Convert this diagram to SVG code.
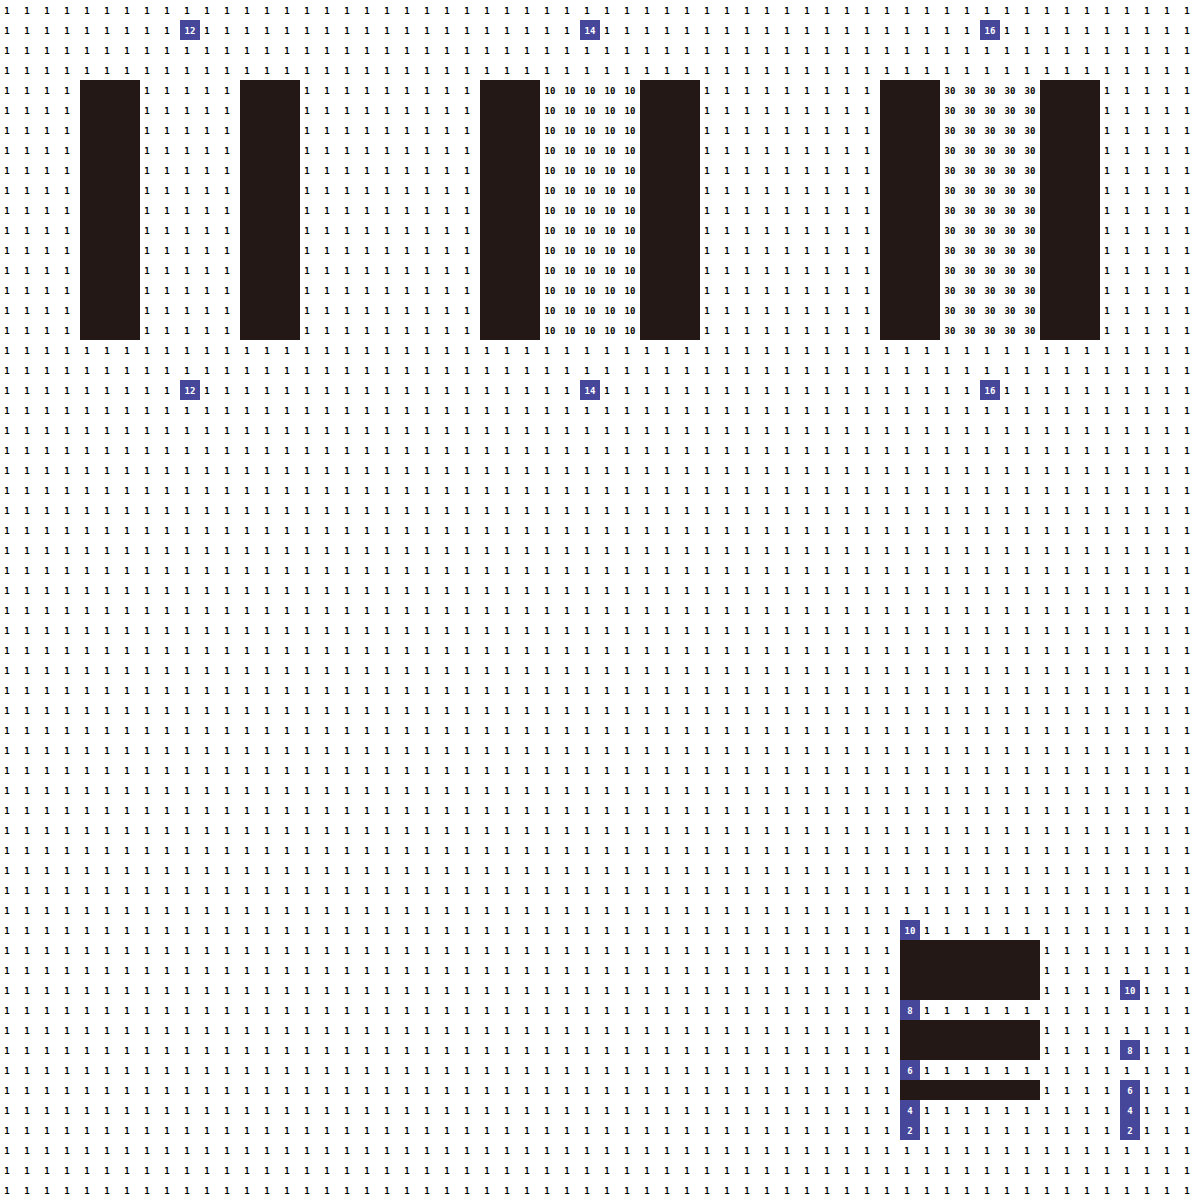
<svg xmlns="http://www.w3.org/2000/svg" width="1200" height="1200" viewBox="0 0 1200 1200">
<style>
.o{font-family:"DejaVu Sans Mono","Liberation Mono",monospace;font-weight:bold;font-size:9px;text-anchor:middle;fill:#000}
.b{fill:#46479B}
.w{font-family:"DejaVu Sans Mono","Liberation Mono",monospace;font-weight:bold;font-size:9px;text-anchor:middle;fill:#fff}
.k{fill:#231815}
</style>
<rect width="1200" height="1200" fill="#fff"/>
<g id="bars">
<rect class="k" x="80" y="80" width="60" height="260"/>
<rect class="k" x="240" y="80" width="60" height="260"/>
<rect class="k" x="480" y="80" width="60" height="260"/>
<rect class="k" x="640" y="80" width="60" height="260"/>
<rect class="k" x="880" y="80" width="60" height="260"/>
<rect class="k" x="1040" y="80" width="60" height="260"/>
<rect class="k" x="900" y="940" width="140" height="60"/>
<rect class="k" x="900" y="1020" width="140" height="40"/>
<rect class="k" x="900" y="1080" width="140" height="20"/>
</g>
<g id="labels">
<rect class="b" x="180" y="20" width="20" height="20"/><text class="w" x="190" y="34">12</text>
<rect class="b" x="580" y="20" width="20" height="20"/><text class="w" x="590" y="34">14</text>
<rect class="b" x="980" y="20" width="20" height="20"/><text class="w" x="990" y="34">16</text>
<rect class="b" x="180" y="380" width="20" height="20"/><text class="w" x="190" y="394">12</text>
<rect class="b" x="580" y="380" width="20" height="20"/><text class="w" x="590" y="394">14</text>
<rect class="b" x="980" y="380" width="20" height="20"/><text class="w" x="990" y="394">16</text>
<rect class="b" x="900" y="920" width="20" height="20"/><text class="w" x="910" y="934">10</text>
<rect class="b" x="900" y="1000" width="20" height="20"/><text class="w" x="910" y="1014">8</text>
<rect class="b" x="900" y="1060" width="20" height="20"/><text class="w" x="910" y="1074">6</text>
<rect class="b" x="900" y="1100" width="20" height="40"/><text class="w" x="910" y="1114">4</text><text class="w" x="910" y="1134">2</text>
<rect class="b" x="1120" y="980" width="20" height="20"/><text class="w" x="1130" y="994">10</text>
<rect class="b" x="1120" y="1040" width="20" height="20"/><text class="w" x="1130" y="1054">8</text>
<rect class="b" x="1120" y="1080" width="20" height="60"/><text class="w" x="1130" y="1094">6</text><text class="w" x="1130" y="1114">4</text><text class="w" x="1130" y="1134">2</text>
</g>
<g id="cells">
<text class="o" y="14" x="7 27 47 67 87 107 127 147 167 187 207 227 247 267 287 307 327 347 367 387 407 427 447 467 487 507 527 547 567 587 607 627 647 667 687 707 727 747 767 787 807 827 847 867 887 907 927 947 967 987 1007 1027 1047 1067 1087 1107 1127 1147 1167 1187">111111111111111111111111111111111111111111111111111111111111</text>
<text class="o" y="34" x="7 27 47 67 87 107 127 147 167">111111111</text>
<text class="o" y="34" x="207 227 247 267 287 307 327 347 367 387 407 427 447 467 487 507 527 547 567">1111111111111111111</text>
<text class="o" y="34" x="607 627 647 667 687 707 727 747 767 787 807 827 847 867 887 907 927 947 967">1111111111111111111</text>
<text class="o" y="34" x="1007 1027 1047 1067 1087 1107 1127 1147 1167 1187">1111111111</text>
<text class="o" y="54" x="7 27 47 67 87 107 127 147 167 187 207 227 247 267 287 307 327 347 367 387 407 427 447 467 487 507 527 547 567 587 607 627 647 667 687 707 727 747 767 787 807 827 847 867 887 907 927 947 967 987 1007 1027 1047 1067 1087 1107 1127 1147 1167 1187">111111111111111111111111111111111111111111111111111111111111</text>
<text class="o" y="74" x="7 27 47 67 87 107 127 147 167 187 207 227 247 267 287 307 327 347 367 387 407 427 447 467 487 507 527 547 567 587 607 627 647 667 687 707 727 747 767 787 807 827 847 867 887 907 927 947 967 987 1007 1027 1047 1067 1087 1107 1127 1147 1167 1187">111111111111111111111111111111111111111111111111111111111111</text>

<text class="o" y="94" x="7 27 47 67">1111</text><text class="o" y="94" x="147 167 187 207 227">11111</text><text class="o" y="94" x="307 327 347 367 387 407 427 447 467">111111111</text><text class="o" y="94" x="547.3 552.7 567.3 572.7 587.3 592.7 607.3 612.7 627.3 632.7">1010101010</text><text class="o" y="94" x="707 727 747 767 787 807 827 847 867">111111111</text><text class="o" y="94" x="947.3 952.7 967.3 972.7 987.3 992.7 1007.3 1012.7 1027.3 1032.7">3030303030</text><text class="o" y="94" x="1107 1127 1147 1167 1187">11111</text>
<text class="o" y="114" x="7 27 47 67">1111</text><text class="o" y="114" x="147 167 187 207 227">11111</text><text class="o" y="114" x="307 327 347 367 387 407 427 447 467">111111111</text><text class="o" y="114" x="547.3 552.7 567.3 572.7 587.3 592.7 607.3 612.7 627.3 632.7">1010101010</text><text class="o" y="114" x="707 727 747 767 787 807 827 847 867">111111111</text><text class="o" y="114" x="947.3 952.7 967.3 972.7 987.3 992.7 1007.3 1012.7 1027.3 1032.7">3030303030</text><text class="o" y="114" x="1107 1127 1147 1167 1187">11111</text>
<text class="o" y="134" x="7 27 47 67">1111</text><text class="o" y="134" x="147 167 187 207 227">11111</text><text class="o" y="134" x="307 327 347 367 387 407 427 447 467">111111111</text><text class="o" y="134" x="547.3 552.7 567.3 572.7 587.3 592.7 607.3 612.7 627.3 632.7">1010101010</text><text class="o" y="134" x="707 727 747 767 787 807 827 847 867">111111111</text><text class="o" y="134" x="947.3 952.7 967.3 972.7 987.3 992.7 1007.3 1012.7 1027.3 1032.7">3030303030</text><text class="o" y="134" x="1107 1127 1147 1167 1187">11111</text>
<text class="o" y="154" x="7 27 47 67">1111</text><text class="o" y="154" x="147 167 187 207 227">11111</text><text class="o" y="154" x="307 327 347 367 387 407 427 447 467">111111111</text><text class="o" y="154" x="547.3 552.7 567.3 572.7 587.3 592.7 607.3 612.7 627.3 632.7">1010101010</text><text class="o" y="154" x="707 727 747 767 787 807 827 847 867">111111111</text><text class="o" y="154" x="947.3 952.7 967.3 972.7 987.3 992.7 1007.3 1012.7 1027.3 1032.7">3030303030</text><text class="o" y="154" x="1107 1127 1147 1167 1187">11111</text>
<text class="o" y="174" x="7 27 47 67">1111</text><text class="o" y="174" x="147 167 187 207 227">11111</text><text class="o" y="174" x="307 327 347 367 387 407 427 447 467">111111111</text><text class="o" y="174" x="547.3 552.7 567.3 572.7 587.3 592.7 607.3 612.7 627.3 632.7">1010101010</text><text class="o" y="174" x="707 727 747 767 787 807 827 847 867">111111111</text><text class="o" y="174" x="947.3 952.7 967.3 972.7 987.3 992.7 1007.3 1012.7 1027.3 1032.7">3030303030</text><text class="o" y="174" x="1107 1127 1147 1167 1187">11111</text>
<text class="o" y="194" x="7 27 47 67">1111</text><text class="o" y="194" x="147 167 187 207 227">11111</text><text class="o" y="194" x="307 327 347 367 387 407 427 447 467">111111111</text><text class="o" y="194" x="547.3 552.7 567.3 572.7 587.3 592.7 607.3 612.7 627.3 632.7">1010101010</text><text class="o" y="194" x="707 727 747 767 787 807 827 847 867">111111111</text><text class="o" y="194" x="947.3 952.7 967.3 972.7 987.3 992.7 1007.3 1012.7 1027.3 1032.7">3030303030</text><text class="o" y="194" x="1107 1127 1147 1167 1187">11111</text>
<text class="o" y="214" x="7 27 47 67">1111</text><text class="o" y="214" x="147 167 187 207 227">11111</text><text class="o" y="214" x="307 327 347 367 387 407 427 447 467">111111111</text><text class="o" y="214" x="547.3 552.7 567.3 572.7 587.3 592.7 607.3 612.7 627.3 632.7">1010101010</text><text class="o" y="214" x="707 727 747 767 787 807 827 847 867">111111111</text><text class="o" y="214" x="947.3 952.7 967.3 972.7 987.3 992.7 1007.3 1012.7 1027.3 1032.7">3030303030</text><text class="o" y="214" x="1107 1127 1147 1167 1187">11111</text>
<text class="o" y="234" x="7 27 47 67">1111</text><text class="o" y="234" x="147 167 187 207 227">11111</text><text class="o" y="234" x="307 327 347 367 387 407 427 447 467">111111111</text><text class="o" y="234" x="547.3 552.7 567.3 572.7 587.3 592.7 607.3 612.7 627.3 632.7">1010101010</text><text class="o" y="234" x="707 727 747 767 787 807 827 847 867">111111111</text><text class="o" y="234" x="947.3 952.7 967.3 972.7 987.3 992.7 1007.3 1012.7 1027.3 1032.7">3030303030</text><text class="o" y="234" x="1107 1127 1147 1167 1187">11111</text>
<text class="o" y="254" x="7 27 47 67">1111</text><text class="o" y="254" x="147 167 187 207 227">11111</text><text class="o" y="254" x="307 327 347 367 387 407 427 447 467">111111111</text><text class="o" y="254" x="547.3 552.7 567.3 572.7 587.3 592.7 607.3 612.7 627.3 632.7">1010101010</text><text class="o" y="254" x="707 727 747 767 787 807 827 847 867">111111111</text><text class="o" y="254" x="947.3 952.7 967.3 972.7 987.3 992.7 1007.3 1012.7 1027.3 1032.7">3030303030</text><text class="o" y="254" x="1107 1127 1147 1167 1187">11111</text>
<text class="o" y="274" x="7 27 47 67">1111</text><text class="o" y="274" x="147 167 187 207 227">11111</text><text class="o" y="274" x="307 327 347 367 387 407 427 447 467">111111111</text><text class="o" y="274" x="547.3 552.7 567.3 572.7 587.3 592.7 607.3 612.7 627.3 632.7">1010101010</text><text class="o" y="274" x="707 727 747 767 787 807 827 847 867">111111111</text><text class="o" y="274" x="947.3 952.7 967.3 972.7 987.3 992.7 1007.3 1012.7 1027.3 1032.7">3030303030</text><text class="o" y="274" x="1107 1127 1147 1167 1187">11111</text>
<text class="o" y="294" x="7 27 47 67">1111</text><text class="o" y="294" x="147 167 187 207 227">11111</text><text class="o" y="294" x="307 327 347 367 387 407 427 447 467">111111111</text><text class="o" y="294" x="547.3 552.7 567.3 572.7 587.3 592.7 607.3 612.7 627.3 632.7">1010101010</text><text class="o" y="294" x="707 727 747 767 787 807 827 847 867">111111111</text><text class="o" y="294" x="947.3 952.7 967.3 972.7 987.3 992.7 1007.3 1012.7 1027.3 1032.7">3030303030</text><text class="o" y="294" x="1107 1127 1147 1167 1187">11111</text>
<text class="o" y="314" x="7 27 47 67">1111</text><text class="o" y="314" x="147 167 187 207 227">11111</text><text class="o" y="314" x="307 327 347 367 387 407 427 447 467">111111111</text><text class="o" y="314" x="547.3 552.7 567.3 572.7 587.3 592.7 607.3 612.7 627.3 632.7">1010101010</text><text class="o" y="314" x="707 727 747 767 787 807 827 847 867">111111111</text><text class="o" y="314" x="947.3 952.7 967.3 972.7 987.3 992.7 1007.3 1012.7 1027.3 1032.7">3030303030</text><text class="o" y="314" x="1107 1127 1147 1167 1187">11111</text>
<text class="o" y="334" x="7 27 47 67">1111</text><text class="o" y="334" x="147 167 187 207 227">11111</text><text class="o" y="334" x="307 327 347 367 387 407 427 447 467">111111111</text><text class="o" y="334" x="547.3 552.7 567.3 572.7 587.3 592.7 607.3 612.7 627.3 632.7">1010101010</text><text class="o" y="334" x="707 727 747 767 787 807 827 847 867">111111111</text><text class="o" y="334" x="947.3 952.7 967.3 972.7 987.3 992.7 1007.3 1012.7 1027.3 1032.7">3030303030</text><text class="o" y="334" x="1107 1127 1147 1167 1187">11111</text>

<text class="o" y="354" x="7 27 47 67 87 107 127 147 167 187 207 227 247 267 287 307 327 347 367 387 407 427 447 467 487 507 527 547 567 587 607 627 647 667 687 707 727 747 767 787 807 827 847 867 887 907 927 947 967 987 1007 1027 1047 1067 1087 1107 1127 1147 1167 1187">111111111111111111111111111111111111111111111111111111111111</text>
<text class="o" y="374" x="7 27 47 67 87 107 127 147 167 187 207 227 247 267 287 307 327 347 367 387 407 427 447 467 487 507 527 547 567 587 607 627 647 667 687 707 727 747 767 787 807 827 847 867 887 907 927 947 967 987 1007 1027 1047 1067 1087 1107 1127 1147 1167 1187">111111111111111111111111111111111111111111111111111111111111</text>
<text class="o" y="394" x="7 27 47 67 87 107 127 147 167">111111111</text>
<text class="o" y="394" x="207 227 247 267 287 307 327 347 367 387 407 427 447 467 487 507 527 547 567">1111111111111111111</text>
<text class="o" y="394" x="607 627 647 667 687 707 727 747 767 787 807 827 847 867 887 907 927 947 967">1111111111111111111</text>
<text class="o" y="394" x="1007 1027 1047 1067 1087 1107 1127 1147 1167 1187">1111111111</text>
<text class="o" y="414" x="7 27 47 67 87 107 127 147 167 187 207 227 247 267 287 307 327 347 367 387 407 427 447 467 487 507 527 547 567 587 607 627 647 667 687 707 727 747 767 787 807 827 847 867 887 907 927 947 967 987 1007 1027 1047 1067 1087 1107 1127 1147 1167 1187">111111111111111111111111111111111111111111111111111111111111</text>
<text class="o" y="434" x="7 27 47 67 87 107 127 147 167 187 207 227 247 267 287 307 327 347 367 387 407 427 447 467 487 507 527 547 567 587 607 627 647 667 687 707 727 747 767 787 807 827 847 867 887 907 927 947 967 987 1007 1027 1047 1067 1087 1107 1127 1147 1167 1187">111111111111111111111111111111111111111111111111111111111111</text>
<text class="o" y="454" x="7 27 47 67 87 107 127 147 167 187 207 227 247 267 287 307 327 347 367 387 407 427 447 467 487 507 527 547 567 587 607 627 647 667 687 707 727 747 767 787 807 827 847 867 887 907 927 947 967 987 1007 1027 1047 1067 1087 1107 1127 1147 1167 1187">111111111111111111111111111111111111111111111111111111111111</text>
<text class="o" y="474" x="7 27 47 67 87 107 127 147 167 187 207 227 247 267 287 307 327 347 367 387 407 427 447 467 487 507 527 547 567 587 607 627 647 667 687 707 727 747 767 787 807 827 847 867 887 907 927 947 967 987 1007 1027 1047 1067 1087 1107 1127 1147 1167 1187">111111111111111111111111111111111111111111111111111111111111</text>
<text class="o" y="494" x="7 27 47 67 87 107 127 147 167 187 207 227 247 267 287 307 327 347 367 387 407 427 447 467 487 507 527 547 567 587 607 627 647 667 687 707 727 747 767 787 807 827 847 867 887 907 927 947 967 987 1007 1027 1047 1067 1087 1107 1127 1147 1167 1187">111111111111111111111111111111111111111111111111111111111111</text>
<text class="o" y="514" x="7 27 47 67 87 107 127 147 167 187 207 227 247 267 287 307 327 347 367 387 407 427 447 467 487 507 527 547 567 587 607 627 647 667 687 707 727 747 767 787 807 827 847 867 887 907 927 947 967 987 1007 1027 1047 1067 1087 1107 1127 1147 1167 1187">111111111111111111111111111111111111111111111111111111111111</text>
<text class="o" y="534" x="7 27 47 67 87 107 127 147 167 187 207 227 247 267 287 307 327 347 367 387 407 427 447 467 487 507 527 547 567 587 607 627 647 667 687 707 727 747 767 787 807 827 847 867 887 907 927 947 967 987 1007 1027 1047 1067 1087 1107 1127 1147 1167 1187">111111111111111111111111111111111111111111111111111111111111</text>
<text class="o" y="554" x="7 27 47 67 87 107 127 147 167 187 207 227 247 267 287 307 327 347 367 387 407 427 447 467 487 507 527 547 567 587 607 627 647 667 687 707 727 747 767 787 807 827 847 867 887 907 927 947 967 987 1007 1027 1047 1067 1087 1107 1127 1147 1167 1187">111111111111111111111111111111111111111111111111111111111111</text>
<text class="o" y="574" x="7 27 47 67 87 107 127 147 167 187 207 227 247 267 287 307 327 347 367 387 407 427 447 467 487 507 527 547 567 587 607 627 647 667 687 707 727 747 767 787 807 827 847 867 887 907 927 947 967 987 1007 1027 1047 1067 1087 1107 1127 1147 1167 1187">111111111111111111111111111111111111111111111111111111111111</text>
<text class="o" y="594" x="7 27 47 67 87 107 127 147 167 187 207 227 247 267 287 307 327 347 367 387 407 427 447 467 487 507 527 547 567 587 607 627 647 667 687 707 727 747 767 787 807 827 847 867 887 907 927 947 967 987 1007 1027 1047 1067 1087 1107 1127 1147 1167 1187">111111111111111111111111111111111111111111111111111111111111</text>
<text class="o" y="614" x="7 27 47 67 87 107 127 147 167 187 207 227 247 267 287 307 327 347 367 387 407 427 447 467 487 507 527 547 567 587 607 627 647 667 687 707 727 747 767 787 807 827 847 867 887 907 927 947 967 987 1007 1027 1047 1067 1087 1107 1127 1147 1167 1187">111111111111111111111111111111111111111111111111111111111111</text>
<text class="o" y="634" x="7 27 47 67 87 107 127 147 167 187 207 227 247 267 287 307 327 347 367 387 407 427 447 467 487 507 527 547 567 587 607 627 647 667 687 707 727 747 767 787 807 827 847 867 887 907 927 947 967 987 1007 1027 1047 1067 1087 1107 1127 1147 1167 1187">111111111111111111111111111111111111111111111111111111111111</text>
<text class="o" y="654" x="7 27 47 67 87 107 127 147 167 187 207 227 247 267 287 307 327 347 367 387 407 427 447 467 487 507 527 547 567 587 607 627 647 667 687 707 727 747 767 787 807 827 847 867 887 907 927 947 967 987 1007 1027 1047 1067 1087 1107 1127 1147 1167 1187">111111111111111111111111111111111111111111111111111111111111</text>
<text class="o" y="674" x="7 27 47 67 87 107 127 147 167 187 207 227 247 267 287 307 327 347 367 387 407 427 447 467 487 507 527 547 567 587 607 627 647 667 687 707 727 747 767 787 807 827 847 867 887 907 927 947 967 987 1007 1027 1047 1067 1087 1107 1127 1147 1167 1187">111111111111111111111111111111111111111111111111111111111111</text>
<text class="o" y="694" x="7 27 47 67 87 107 127 147 167 187 207 227 247 267 287 307 327 347 367 387 407 427 447 467 487 507 527 547 567 587 607 627 647 667 687 707 727 747 767 787 807 827 847 867 887 907 927 947 967 987 1007 1027 1047 1067 1087 1107 1127 1147 1167 1187">111111111111111111111111111111111111111111111111111111111111</text>
<text class="o" y="714" x="7 27 47 67 87 107 127 147 167 187 207 227 247 267 287 307 327 347 367 387 407 427 447 467 487 507 527 547 567 587 607 627 647 667 687 707 727 747 767 787 807 827 847 867 887 907 927 947 967 987 1007 1027 1047 1067 1087 1107 1127 1147 1167 1187">111111111111111111111111111111111111111111111111111111111111</text>
<text class="o" y="734" x="7 27 47 67 87 107 127 147 167 187 207 227 247 267 287 307 327 347 367 387 407 427 447 467 487 507 527 547 567 587 607 627 647 667 687 707 727 747 767 787 807 827 847 867 887 907 927 947 967 987 1007 1027 1047 1067 1087 1107 1127 1147 1167 1187">111111111111111111111111111111111111111111111111111111111111</text>
<text class="o" y="754" x="7 27 47 67 87 107 127 147 167 187 207 227 247 267 287 307 327 347 367 387 407 427 447 467 487 507 527 547 567 587 607 627 647 667 687 707 727 747 767 787 807 827 847 867 887 907 927 947 967 987 1007 1027 1047 1067 1087 1107 1127 1147 1167 1187">111111111111111111111111111111111111111111111111111111111111</text>
<text class="o" y="774" x="7 27 47 67 87 107 127 147 167 187 207 227 247 267 287 307 327 347 367 387 407 427 447 467 487 507 527 547 567 587 607 627 647 667 687 707 727 747 767 787 807 827 847 867 887 907 927 947 967 987 1007 1027 1047 1067 1087 1107 1127 1147 1167 1187">111111111111111111111111111111111111111111111111111111111111</text>
<text class="o" y="794" x="7 27 47 67 87 107 127 147 167 187 207 227 247 267 287 307 327 347 367 387 407 427 447 467 487 507 527 547 567 587 607 627 647 667 687 707 727 747 767 787 807 827 847 867 887 907 927 947 967 987 1007 1027 1047 1067 1087 1107 1127 1147 1167 1187">111111111111111111111111111111111111111111111111111111111111</text>
<text class="o" y="814" x="7 27 47 67 87 107 127 147 167 187 207 227 247 267 287 307 327 347 367 387 407 427 447 467 487 507 527 547 567 587 607 627 647 667 687 707 727 747 767 787 807 827 847 867 887 907 927 947 967 987 1007 1027 1047 1067 1087 1107 1127 1147 1167 1187">111111111111111111111111111111111111111111111111111111111111</text>
<text class="o" y="834" x="7 27 47 67 87 107 127 147 167 187 207 227 247 267 287 307 327 347 367 387 407 427 447 467 487 507 527 547 567 587 607 627 647 667 687 707 727 747 767 787 807 827 847 867 887 907 927 947 967 987 1007 1027 1047 1067 1087 1107 1127 1147 1167 1187">111111111111111111111111111111111111111111111111111111111111</text>
<text class="o" y="854" x="7 27 47 67 87 107 127 147 167 187 207 227 247 267 287 307 327 347 367 387 407 427 447 467 487 507 527 547 567 587 607 627 647 667 687 707 727 747 767 787 807 827 847 867 887 907 927 947 967 987 1007 1027 1047 1067 1087 1107 1127 1147 1167 1187">111111111111111111111111111111111111111111111111111111111111</text>
<text class="o" y="874" x="7 27 47 67 87 107 127 147 167 187 207 227 247 267 287 307 327 347 367 387 407 427 447 467 487 507 527 547 567 587 607 627 647 667 687 707 727 747 767 787 807 827 847 867 887 907 927 947 967 987 1007 1027 1047 1067 1087 1107 1127 1147 1167 1187">111111111111111111111111111111111111111111111111111111111111</text>
<text class="o" y="894" x="7 27 47 67 87 107 127 147 167 187 207 227 247 267 287 307 327 347 367 387 407 427 447 467 487 507 527 547 567 587 607 627 647 667 687 707 727 747 767 787 807 827 847 867 887 907 927 947 967 987 1007 1027 1047 1067 1087 1107 1127 1147 1167 1187">111111111111111111111111111111111111111111111111111111111111</text>
<text class="o" y="914" x="7 27 47 67 87 107 127 147 167 187 207 227 247 267 287 307 327 347 367 387 407 427 447 467 487 507 527 547 567 587 607 627 647 667 687 707 727 747 767 787 807 827 847 867 887 907 927 947 967 987 1007 1027 1047 1067 1087 1107 1127 1147 1167 1187">111111111111111111111111111111111111111111111111111111111111</text>

<text class="o" y="934" x="7 27 47 67 87 107 127 147 167 187 207 227 247 267 287 307 327 347 367 387 407 427 447 467 487 507 527 547 567 587 607 627 647 667 687 707 727 747 767 787 807 827 847 867 887">111111111111111111111111111111111111111111111</text>
<text class="o" y="934" x="927 947 967 987 1007 1027 1047 1067 1087 1107 1127 1147 1167 1187">11111111111111</text>
<text class="o" y="954" x="7 27 47 67 87 107 127 147 167 187 207 227 247 267 287 307 327 347 367 387 407 427 447 467 487 507 527 547 567 587 607 627 647 667 687 707 727 747 767 787 807 827 847 867 887">111111111111111111111111111111111111111111111</text>
<text class="o" y="954" x="1047 1067 1087 1107 1127 1147 1167 1187">11111111</text>
<text class="o" y="974" x="7 27 47 67 87 107 127 147 167 187 207 227 247 267 287 307 327 347 367 387 407 427 447 467 487 507 527 547 567 587 607 627 647 667 687 707 727 747 767 787 807 827 847 867 887">111111111111111111111111111111111111111111111</text>
<text class="o" y="974" x="1047 1067 1087 1107 1127 1147 1167 1187">11111111</text>
<text class="o" y="994" x="7 27 47 67 87 107 127 147 167 187 207 227 247 267 287 307 327 347 367 387 407 427 447 467 487 507 527 547 567 587 607 627 647 667 687 707 727 747 767 787 807 827 847 867 887">111111111111111111111111111111111111111111111</text>
<text class="o" y="994" x="1047 1067 1087 1107">1111</text>
<text class="o" y="994" x="1147 1167 1187">111</text>
<text class="o" y="1014" x="7 27 47 67 87 107 127 147 167 187 207 227 247 267 287 307 327 347 367 387 407 427 447 467 487 507 527 547 567 587 607 627 647 667 687 707 727 747 767 787 807 827 847 867 887">111111111111111111111111111111111111111111111</text>
<text class="o" y="1014" x="927 947 967 987 1007 1027 1047 1067 1087 1107 1127 1147 1167 1187">11111111111111</text>
<text class="o" y="1034" x="7 27 47 67 87 107 127 147 167 187 207 227 247 267 287 307 327 347 367 387 407 427 447 467 487 507 527 547 567 587 607 627 647 667 687 707 727 747 767 787 807 827 847 867 887">111111111111111111111111111111111111111111111</text>
<text class="o" y="1034" x="1047 1067 1087 1107 1127 1147 1167 1187">11111111</text>
<text class="o" y="1054" x="7 27 47 67 87 107 127 147 167 187 207 227 247 267 287 307 327 347 367 387 407 427 447 467 487 507 527 547 567 587 607 627 647 667 687 707 727 747 767 787 807 827 847 867 887">111111111111111111111111111111111111111111111</text>
<text class="o" y="1054" x="1047 1067 1087 1107">1111</text>
<text class="o" y="1054" x="1147 1167 1187">111</text>
<text class="o" y="1074" x="7 27 47 67 87 107 127 147 167 187 207 227 247 267 287 307 327 347 367 387 407 427 447 467 487 507 527 547 567 587 607 627 647 667 687 707 727 747 767 787 807 827 847 867 887">111111111111111111111111111111111111111111111</text>
<text class="o" y="1074" x="927 947 967 987 1007 1027 1047 1067 1087 1107 1127 1147 1167 1187">11111111111111</text>
<text class="o" y="1094" x="7 27 47 67 87 107 127 147 167 187 207 227 247 267 287 307 327 347 367 387 407 427 447 467 487 507 527 547 567 587 607 627 647 667 687 707 727 747 767 787 807 827 847 867 887">111111111111111111111111111111111111111111111</text>
<text class="o" y="1094" x="1047 1067 1087 1107">1111</text>
<text class="o" y="1094" x="1147 1167 1187">111</text>
<text class="o" y="1114" x="7 27 47 67 87 107 127 147 167 187 207 227 247 267 287 307 327 347 367 387 407 427 447 467 487 507 527 547 567 587 607 627 647 667 687 707 727 747 767 787 807 827 847 867 887">111111111111111111111111111111111111111111111</text>
<text class="o" y="1114" x="927 947 967 987 1007 1027 1047 1067 1087 1107">1111111111</text>
<text class="o" y="1114" x="1147 1167 1187">111</text>
<text class="o" y="1134" x="7 27 47 67 87 107 127 147 167 187 207 227 247 267 287 307 327 347 367 387 407 427 447 467 487 507 527 547 567 587 607 627 647 667 687 707 727 747 767 787 807 827 847 867 887">111111111111111111111111111111111111111111111</text>
<text class="o" y="1134" x="927 947 967 987 1007 1027 1047 1067 1087 1107">1111111111</text>
<text class="o" y="1134" x="1147 1167 1187">111</text>
<text class="o" y="1154" x="7 27 47 67 87 107 127 147 167 187 207 227 247 267 287 307 327 347 367 387 407 427 447 467 487 507 527 547 567 587 607 627 647 667 687 707 727 747 767 787 807 827 847 867 887 907 927 947 967 987 1007 1027 1047 1067 1087 1107 1127 1147 1167 1187">111111111111111111111111111111111111111111111111111111111111</text>
<text class="o" y="1174" x="7 27 47 67 87 107 127 147 167 187 207 227 247 267 287 307 327 347 367 387 407 427 447 467 487 507 527 547 567 587 607 627 647 667 687 707 727 747 767 787 807 827 847 867 887 907 927 947 967 987 1007 1027 1047 1067 1087 1107 1127 1147 1167 1187">111111111111111111111111111111111111111111111111111111111111</text>
<text class="o" y="1194" x="7 27 47 67 87 107 127 147 167 187 207 227 247 267 287 307 327 347 367 387 407 427 447 467 487 507 527 547 567 587 607 627 647 667 687 707 727 747 767 787 807 827 847 867 887 907 927 947 967 987 1007 1027 1047 1067 1087 1107 1127 1147 1167 1187">111111111111111111111111111111111111111111111111111111111111</text>
</g>
</svg>
